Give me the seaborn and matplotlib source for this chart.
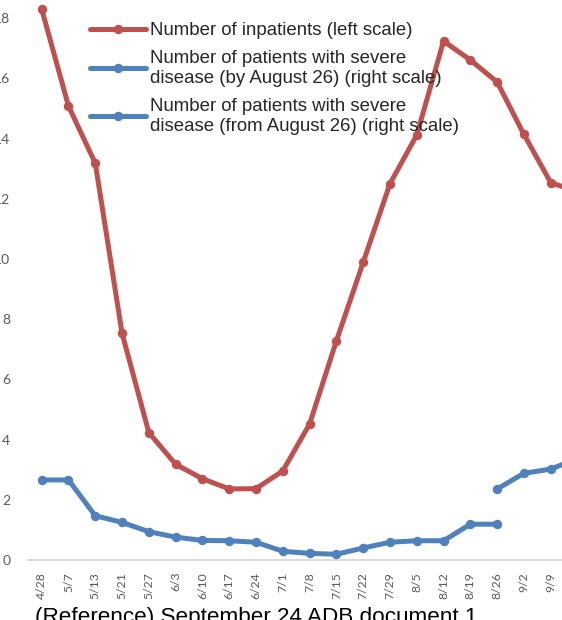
import matplotlib
matplotlib.use("Agg")
import matplotlib.pyplot as plt
import numpy as np
import pandas as pd
import seaborn as sns

# --------------------------------------------------------------------------
# Data (left scale: inpatients, right scale: severe)
# --------------------------------------------------------------------------
dates = ["4/28", "5/7", "5/13", "5/21", "5/27", "6/3", "6/10", "6/17", "6/24",
         "7/1", "7/8", "7/15", "7/22", "7/29", "8/5", "8/12", "8/19", "8/26",
         "9/2", "9/9", "9/16"]
inpatients = [18.3, 15.08, 13.18, 7.53, 4.23, 3.18, 2.70, 2.36, 2.37, 2.96,
              4.52, 7.28, 9.89, 12.5, 14.12, 17.24, 16.61, 15.88, 14.14, 12.54, 12.23]
severe_by_aug26 = [26.6, 26.6, 14.7, 12.5, 9.4, 7.6, 6.5, 6.4, 5.9, 2.9,
                   2.2, 1.9, 4.0, 5.9, 6.4, 6.4, 11.9, 11.9]
severe_from_aug26 = [23.6, 28.8, 30.2, 33.7]

left_ticks = list(range(0, 20, 2))

RED = "#C0504D"
BLUE = "#4F81BD"
TICK_GREY = "#595959"

sns.set_theme(style="white")
plt.rcParams["font.family"] = ["Liberation Sans", "DejaVu Sans"]

W, H = 562, 620
fig = plt.figure(figsize=(W / 100, H / 100), dpi=100)

# plot area partly runs off the canvas, as in the cropped reference
n = len(dates)
step = 26.79
x_left = 41.7 - step / 2
base_y = 560
unit = 30.1
ax = fig.add_axes([x_left / W, (H - base_y) / H, n * step / W, 20 * unit / H])
ax2 = ax.twinx()

pos = np.arange(n)
df_red = pd.DataFrame({"pos": pos, "val": inpatients})
df_b1 = pd.DataFrame({"pos": pos[:len(severe_by_aug26)], "val": severe_by_aug26})
df_b2 = pd.DataFrame({"pos": pos[17:17 + len(severe_from_aug26)], "val": severe_from_aug26})

line_kw = dict(marker="o", linewidth=3.6, markersize=6.8, markeredgewidth=0, legend=False)
sns.lineplot(data=df_red, x="pos", y="val", ax=ax, color=RED, **line_kw)
sns.lineplot(data=df_b1, x="pos", y="val", ax=ax2, color=BLUE, **line_kw)
sns.lineplot(data=df_b2, x="pos", y="val", ax=ax2, color=BLUE, **line_kw)

ax.set_xlim(-0.5, n - 0.5)
ax.set_ylim(0, 20)
ax2.set_ylim(0, 200)

ax.set_xticks(pos)
ax.set_xticklabels(dates, rotation=90, family="Lato", fontsize=8.8, color=TICK_GREY)
ax.set_yticks(left_ticks)
ax.set_yticklabels([str(t) for t in left_ticks], family="Lato", fontsize=10, color=TICK_GREY)
ax.tick_params(axis="x", length=0, pad=8.5)
ax.tick_params(axis="y", length=0, pad=13)
ax.set_xlabel("")
ax.set_ylabel("")
ax2.set_ylabel("")
ax2.set_yticks([])

for a in (ax, ax2):
    for side in ("left", "right", "top", "bottom"):
        a.spines[side].set_visible(False)
ax.spines["bottom"].set_visible(True)
ax.spines["bottom"].set_color("#D9D9D9")
ax.spines["bottom"].set_linewidth(1.3)

handles = [ax.lines[0], ax2.lines[0], ax2.lines[1]]
labels = ["Number of inpatients (left scale)",
          "Number of patients with severe\ndisease (by August 26) (right scale)",
          "Number of patients with severe\ndisease (from August 26) (right scale)"]
fig.legend(handles, labels, loc="upper left",
           bbox_to_anchor=(90 / W, 1 - 22 / H), frameon=False,
           fontsize=13.4, handlelength=3.0, handletextpad=0.25,
           labelspacing=0.6, borderpad=0, borderaxespad=0)

fig.text(35 / W, (H - 623) / H, "(Reference) September 24 ADB document 1",
         fontsize=16.2, color="black", va="baseline", ha="left")

fig.savefig("out.png", dpi=100)
